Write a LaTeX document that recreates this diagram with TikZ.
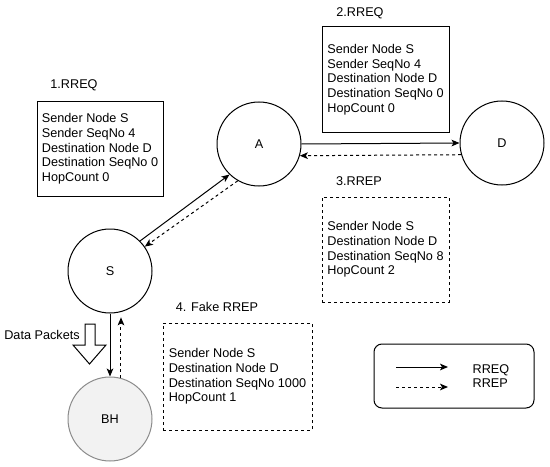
\documentclass[tikz,border=0pt]{standalone}
\usepackage{fontspec}
\setmainfont{Liberation Sans}
\usetikzlibrary{arrows.meta}
\definecolor{bhfill}{RGB}{242,242,242}
\definecolor{bhline}{RGB}{140,140,140}

\begin{document}
\begin{tikzpicture}[x=0.75pt, y=-0.75pt,
		every node/.style={font=\fontsize{9.5}{11}\selectfont},
		hostnode/.style={circle, draw, line width=0.75pt, minimum size=63pt, inner sep=0pt},
		msgbox/.style n args={2}{draw, line width=0.75pt, align=left, inner sep=0pt,
			minimum width=#1*0.75pt, minimum height=#2*0.75pt},
		dashbox/.style={dash pattern=on 2.25pt off 2.25pt},
		rreq/.style={line width=0.75pt, -{Stealth[length=6pt, width=5pt, inset=1.5pt]}},
		rrep/.style={rreq, dash pattern=on 2.25pt off 2.25pt}]
	\useasboundingbox (0,0) rectangle (550,467);

	% hosts
	\node[hostnode] (A) at (259,144) {A};
	\node[hostnode] (D) at (502,143) {D};
	\node[hostnode] (S) at (110,271) {S};
	\node[hostnode, fill=bhfill, draw=bhline] (BH) at (110,419) {BH};

	% message boxes
	\node[msgbox={126}{94}] (reqone) at (100,149)
		{Sender Node S\\Sender SeqNo 4\\Destination Node D\\Destination SeqNo 0\\HopCount 0};
	\node (lblone) at (74,85) {1.RREQ};

	\node[msgbox={127}{105}] (reqtwo) at (385.5,79.5)
		{Sender Node S\\Sender SeqNo 4\\Destination Node D\\Destination SeqNo 0\\HopCount 0};
	\node (lbltwo) at (360,13) {2.RREQ};

	\node[msgbox={127}{105}, dashbox] (repthree) at (385.5,249.5)
		{Sender Node S\\Destination Node D\\Destination SeqNo 8\\HopCount 2};
	\node (lblthree) at (359,181) {3.RREP};

	\node[msgbox={149}{107}, dashbox] (repfour) at (237.5,376.5)
		{Sender Node S\\Destination Node D\\Destination SeqNo 1000\\HopCount 1};
	\node (lblfour) at (217,307) {4. Fake RREP};

	% route request and reply
	\draw[rreq] (A.east) -- (D.west);
	\draw[rrep] (D.196) -- (A.-16);
	\draw[rreq] (S.45) -- (A.226);
	\draw[rrep] (A.240) -- (S.35);
	\draw[rreq] (S.south) -- (BH.north);
	\draw[rrep] (BH.75) -- ([yshift=-4pt]S.-75);

	% data packets
	\draw[line width=0.75pt] (85,324) -- (95,324) -- (95,345) -- (106,345) -- (89.5,364)
		-- (73,345) -- (85,345) -- cycle;
	\node (data) at (42,335) {Data Packets};

	% legend
	\node[draw, line width=0.75pt, rounded corners=6pt, minimum width=120pt, minimum height=48pt] (legend) at (454,376) {};
	\coordinate (lq1) at (396,367);
	\coordinate (lq2) at (448,367);
	\coordinate (lp1) at (396,387);
	\coordinate (lp2) at (448,387);
	\draw[rreq] (lq1) -- (lq2);
	\draw[rrep] (lp1) -- (lp2);
	\node[align=left] (legtext) at (491,376) {RREQ\\RREP};

\end{tikzpicture}
\end{document}
